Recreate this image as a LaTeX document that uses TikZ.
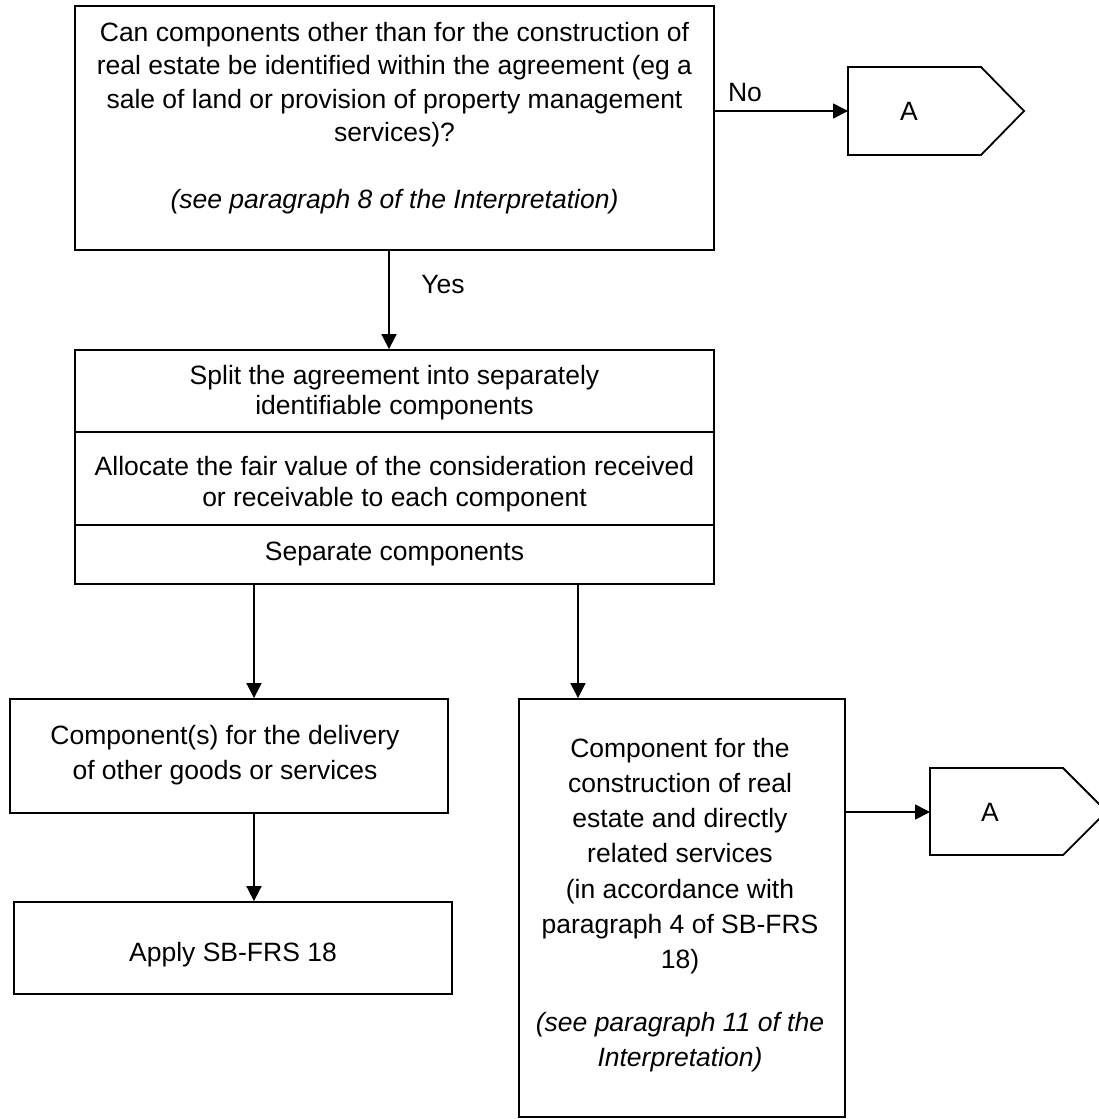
\documentclass[tikz,border=0pt]{standalone}
\usepackage{fontspec}
\setmainfont{Liberation Sans}
\usetikzlibrary{arrows.meta}
\newcommand\mlines[2]{\parbox[t]{700pt}{\centering\fontsize{26.5}{#1}\selectfont #2}}
\begin{document}
\begin{tikzpicture}[x=1pt,y=-1pt,
  box/.style={draw, line width=1.8pt, rectangle, inner sep=0pt},
  shp/.style={draw, line width=1.8pt, line join=miter},
  arr/.style={line width=1.7pt, -{Triangle[length=15pt,width=15pt]}},
  txt/.style={inner sep=0pt, anchor=base, font=\fontsize{26.5}{33.5}\selectfont},
]
\path[use as bounding box] (0,0) rectangle (1099,1119);
\fill[white] (0,0) rectangle (1099,1119);
\clip (0,0) rectangle (1099,1119);

% boxes
\node[box, minimum width=639pt, minimum height=244pt] (top) at (394.5,128) {};
\node[box, minimum width=639pt, minimum height=234pt] (mid) at (394.5,467) {};
\node[box, minimum width=438pt, minimum height=114pt] (left) at (229,756) {};
\node[box, minimum width=438pt, minimum height=92pt] (apply) at (233,948) {};
\node[box, minimum width=326pt, minimum height=418pt] (right) at (682,908) {};

% dividers in middle box
\draw[line width=1.8pt] (mid.west |- 0,432) -- (mid.east |- 0,432);
\draw[line width=1.8pt] (mid.west |- 0,525) -- (mid.east |- 0,525);

% off-page connectors
\draw[shp] (848,67) -- (981,67) -- (1024,111) -- (981,155) -- (848,155) -- cycle;
\coordinate (pa1) at (848,111);
\draw[shp] (930,768) -- (1063,768) -- (1106.5,811.5) -- (1063,855) -- (930,855) -- cycle;
\coordinate (pa2) at (930,812);

% texts
\node[txt] (t1) at (394.5,41) {\mlines{33.6}{Can components other than for the construction of\\real estate be identified within the agreement (eg a\\sale of land or provision of property management\\services)?}};
\node[txt] (t1i) at (394.5,208) {\itshape (see paragraph 8 of the Interpretation)};
\node[txt] (t2) at (394.5,384) {\mlines{30.7}{Split the agreement into separately\\identifiable components}};
\node[txt] (t3) at (394.5,475.7) {\mlines{30.7}{Allocate the fair value of the consideration received\\or receivable to each component}};
\node[txt] (t4) at (394.5,560.7) {Separate components};
\node[txt] (t5) at (225,744) {\mlines{35}{Component(s) for the delivery\\of other goods or services}};
\node[txt] (t6) at (233,961.5) {Apply SB-FRS 18};
\node[txt] (t7) at (680,757) {\mlines{35.3}{Component for the\\construction of real\\estate and directly\\related services\\(in accordance with\\paragraph 4 of SB-FRS\\18)}};
\node[txt] (t7i) at (680,1031) {\mlines{35.3}{\itshape (see paragraph 11 of the\\Interpretation)}};
\node[txt] (no) at (745,101) {No};
\node[txt] (yes) at (443,293) {Yes};
\node[txt] (a1) at (909,120.5) {A};
\node[txt] (a2) at (990,821.5) {A};

% connectors
\draw[arr] (top.east |- pa1) -- (pa1);
\draw[arr] ([xshift=-5.5pt]top.south) -- ([xshift=-5.5pt]mid.north);
\draw[arr] (254,0 |- mid.south) -- (254,0 |- left.north);
\draw[arr] (578,0 |- mid.south) -- (578,0 |- right.north);
\draw[arr] (254,0 |- left.south) -- (254,0 |- apply.north);
\draw[arr] (right.east |- pa2) -- (pa2);
\end{tikzpicture}
\end{document}
